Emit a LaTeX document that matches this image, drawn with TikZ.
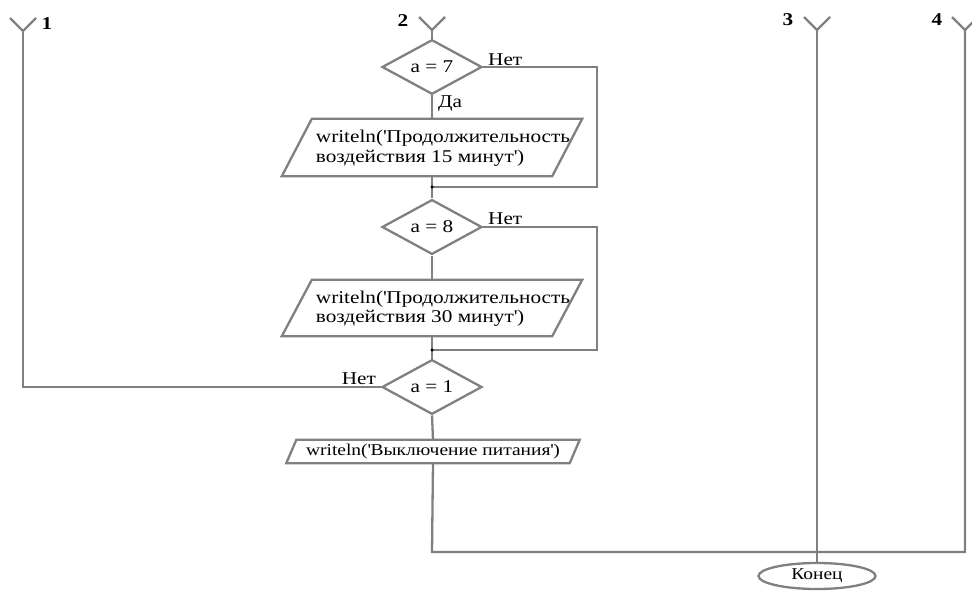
\documentclass[tikz,border=0pt]{standalone}
\usepackage{fontspec}
\setmainfont{Liberation Serif}[FakeStretch=1.18]
\usetikzlibrary{shapes.geometric}
\definecolor{linec}{RGB}{128,128,128}
\newcommand{\q}{\textquotesingle}
\begin{document}
\begin{tikzpicture}[x=1pt,y=-1pt,
  ln/.style={draw=linec,line width=2.3pt,line join=miter},
  dia/.style={diamond,ln,fill=white,minimum width=100pt,minimum height=50pt,inner sep=0pt,font=\fontsize{18}{19}\selectfont},
  body/.style={rectangle,draw=none,inner sep=0pt},
  txt/.style={font=\fontsize{18}{19.5}\selectfont,inner sep=0pt},
  lbl/.style={font=\fontsize{18}{19}\selectfont,inner sep=0pt},
  num/.style={font=\fontsize{18}{19}\selectfont\bfseries,inner sep=0pt},
  dot/.style={circle,fill=black,inner sep=0pt,minimum size=3.5pt}]
\useasboundingbox (0,0) rectangle (972,597);
% connector Ys
\coordinate (c1) at (23,31);
\coordinate (c2) at (432,30);
\coordinate (c3) at (817,30);
\coordinate (c4) at (965,30);
\foreach \c in {c1,c2,c3,c4}{
  \draw[ln] ([shift={(-13,-13)}]\c) -- (\c) -- ([shift={(13,-13)}]\c);
}
\node[num] (n1) at (47,24) {1};
\node[num] (n2) at (403,21) {2};
\node[num] (n3) at (788,20) {3};
\node[num] (n4) at (937,20) {4};
% blocks
\node[dia] (d7) at (432,67) {a = 7};
\node[body,minimum width=270pt,minimum height=57pt] (p1) at (432,147.5) {};
\draw[ln] ([xshift=15pt]p1.north west) -- ([xshift=15pt]p1.north east) -- ([xshift=-15pt]p1.south east) -- ([xshift=-15pt]p1.south west) -- cycle;
\node[txt,align=left] (p1t) at (443,148) {writeln(\q Продолжительность\\воздействия 15 минут\q)};
\node[dia] (d8) at (432,227) {a = 8};
\node[body,minimum width=270pt,minimum height=56pt] (p2) at (432,308) {};
\draw[ln] ([xshift=15pt]p2.north west) -- ([xshift=15pt]p2.north east) -- ([xshift=-15pt]p2.south east) -- ([xshift=-15pt]p2.south west) -- cycle;
\node[txt,align=left] (p2t) at (443,308.5) {writeln(\q Продолжительность\\воздействия 30 минут\q)};
\node[dia] (d1) at (432,387) {a = 1};
\node[body,minimum width=283pt,minimum height=23pt,font=\fontsize{16.5}{18}\selectfont] (p3) at (433,451.5) {writeln(\q Выключение питания\q)};
\draw[ln] ([xshift=5pt]p3.north west) -- ([xshift=5pt]p3.north east) -- ([xshift=-5pt]p3.south east) -- ([xshift=-5pt]p3.south west) -- cycle;
\node[ellipse,ln,minimum width=117pt,minimum height=26pt,inner sep=0pt,font=\fontsize{16.5}{18}\selectfont] (end) at (817,576) {Конец};
% junctions
\coordinate (m1) at (432,187);
\coordinate (m2) at (432,350);
\coordinate (bot) at (432,552);
% connectors
\draw[ln] (c2) -- (d7.north);
\draw[ln] (d7.south) -- (p1.north);
\draw[ln] (d7.east) -| (597,187) -- (m1);
\draw[ln] (p1.south) -- (m1) -- (d8.north);
\draw[ln] (d8.south) -- (p2.north);
\draw[ln] (d8.east) -| (597,350) -- (m2);
\draw[ln] (p2.south) -- (m2) -- (d1.north);
\draw[ln] (d1.west) -| (c1);
\draw[ln] (d1.south) -- (p3.north);
\draw[ln] (p3.south) -- (bot) -| (c4);
\draw[ln] (c3) -- (end.north);
\node[dot] (k1) at (m1) {};
\node[dot] (k2) at (m2) {};
% labels
\node[lbl,anchor=south west] (l7) at (488,66) {Нет};
\node[lbl,anchor=south west] (l8) at (488,225) {Нет};
\node[lbl,anchor=south east] (l1) at (376,385) {Нет};
\node[lbl,anchor=south west] (da) at (438,112) {Да};
\end{tikzpicture}
\end{document}
